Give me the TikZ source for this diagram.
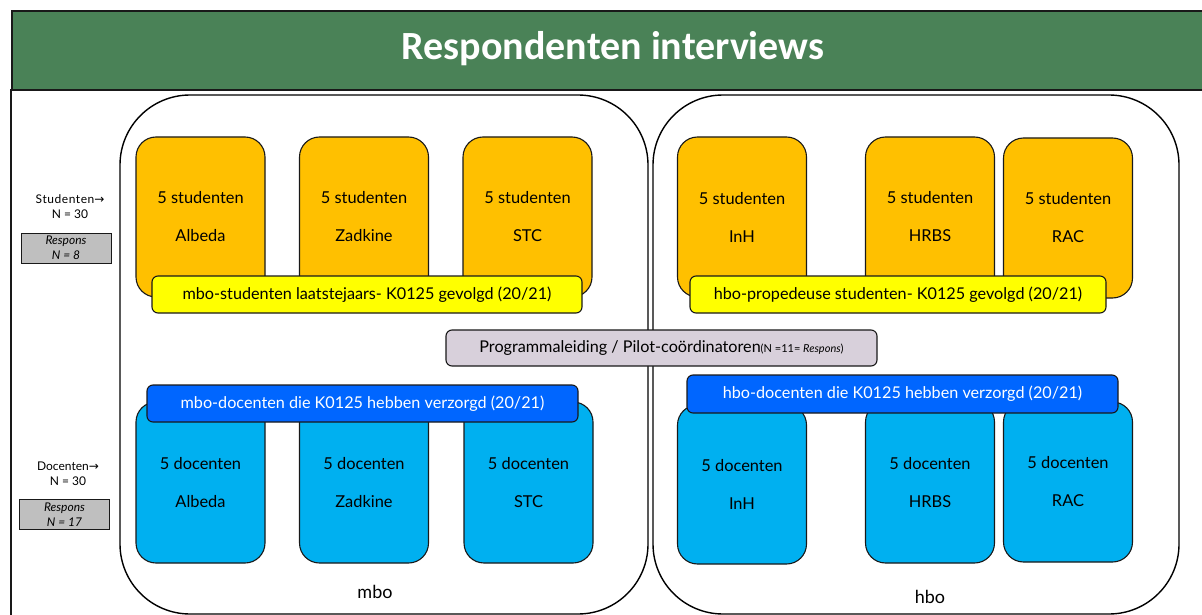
\documentclass[tikz,border=0pt]{standalone}
\usepackage{fontspec}
\setmainfont{Lato}
\newfontfamily\titlefont{Carlito}
\newfontfamily\arrowfont{DejaVu Sans}
\definecolor{bannergreen}{RGB}{74,130,87}
\definecolor{orangebox}{RGB}{255,192,0}
\definecolor{yellowbar}{RGB}{255,255,0}
\definecolor{cyanbox}{RGB}{0,176,240}
\definecolor{bluebar}{RGB}{0,102,255}
\definecolor{lavender}{RGB}{216,208,219}
\definecolor{greybox}{RGB}{191,191,191}
\definecolor{edge}{RGB}{25,25,25}
\begin{document}
\begin{tikzpicture}[x=1pt,y=-1pt,
  bigbox/.style={draw=black, line width=1.4pt, rounded corners=70pt},
  unit/.style={draw=edge, line width=1.1pt, rounded corners=20pt, inner sep=0pt, align=center,
    minimum width=129pt, font=\fontsize{16.4}{38}\selectfont},
  stud/.style={unit, fill=orangebox, minimum height=160pt},
  doc/.style={unit, fill=cyanbox, minimum height=161pt},
  bar/.style={draw=edge, line width=1.1pt, rounded corners=6pt, inner sep=0pt,
    font=\fontsize{16.2}{18}\selectfont, minimum height=37pt},
  ybar/.style={bar, fill=yellowbar},
  bbar/.style={bar, fill=bluebar, text=white},
  side/.style={inner sep=0pt, align=center, font=\fontsize{12}{15}\selectfont},
  resp/.style={draw=edge, line width=1pt, fill=greybox, inner sep=0pt, align=center,
    minimum width=90pt, minimum height=30pt, font=\fontsize{12}{15}\selectfont\itshape},
  grp/.style={inner sep=0pt, font=\fontsize{18}{20}\selectfont}]
\useasboundingbox (0,0) rectangle (1202,615);
\clip (0,0) rectangle (1202,615);
% frame and banner
\draw[line width=1.2pt, draw=edge] (11,89) -- (11,620);
\node[draw=edge, line width=1.6pt, fill=bannergreen, anchor=north west, inner sep=0pt,
  minimum width=1220pt, minimum height=79pt] (banner) at (11,10) {};
\node[text=white, inner sep=0pt, font=\titlefont\bfseries\fontsize{40}{44}\selectfont] (title) at (613,49) {Respondenten interviews};
% big groups
\draw[bigbox] (120,614) rectangle (648,95);
\draw[bigbox] (653,614) rectangle (1179,95);
\node[grp] (mbo) at (375,592) {mbo};
\node[grp] (hbo) at (930,597) {hbo};
% left labels
\node[side] (studlab) at (70,207) {S\kern0.5pt t\kern0.5pt u\kern0.5pt d\kern0.5pt e\kern0.5pt n\kern0.5pt t\kern0.5pt e\kern0.5pt n{\arrowfont →}\\N = 30};
\node[resp] (studresp) at (66,248) {Respons\\N = 8};
\node[side] (doclab) at (68,474) {Docenten{\arrowfont →}\\N = 30};
\node[resp] (docresp) at (64.5,514.5) {Respons\\N = 17};
% mbo students
\node[stud] (sAlb) at (200.5,217) {5 studenten\\Albeda};
\node[stud] (sZad) at (364,217) {5 studenten\\Zadkine};
\node[stud] (sSTC) at (527.5,217) {5 studenten\\STC};
\node[ybar, minimum width=430pt] (mboStud) at (367,294.5) {mbo-studenten laatstejaars- K0125 gevolgd (20/21)};
% hbo students
\node[stud] (sInH) at (742,217) {5 studenten\\InH};
\node[stud] (sHRBS) at (930,217) {5 studenten\\HRBS};
\node[stud] (sRAC) at (1068,218) {5 studenten\\RAC};
\node[ybar, minimum width=416pt] (hboStud) at (898,294.5) {hbo-propedeuse studenten- K0125 gevolgd (20/21)};
% programme management
\node[draw=edge, line width=1.1pt, fill=lavender, rounded corners=6pt, inner sep=0pt,
  minimum width=431pt, minimum height=36pt, font=\fontsize{16.2}{18}\selectfont] (prog) at (661.5,348)
  {Programmaleiding / Pilot-coördinatoren{\fontsize{11}{12}\selectfont(N =11= \textit{Respons})}};
% mbo teachers
\node[doc] (dAlb) at (200.5,482.5) {5 docenten\\Albeda};
\node[doc] (dZad) at (364,482.5) {5 docenten\\Zadkine};
\node[doc] (dSTC) at (528.5,482.5) {5 docenten\\STC};
\node[bbar, minimum width=431pt] (mboDoc) at (362.5,403.5) {mbo-docenten die K0125 hebben verzorgd (20/21)};
% hbo teachers
\node[doc, minimum height=159pt] (dInH) at (742,484.5) {5 docenten\\InH};
\node[doc] (dHRBS) at (930,482.5) {5 docenten\\HRBS};
\node[doc, minimum height=160pt] (dRAC) at (1068,482) {5 docenten\\RAC};
\node[bbar, minimum width=431pt, minimum height=38pt] (hboDoc) at (902.5,394) {hbo-docenten die K0125 hebben verzorgd (20/21)};
\end{tikzpicture}
\end{document}
